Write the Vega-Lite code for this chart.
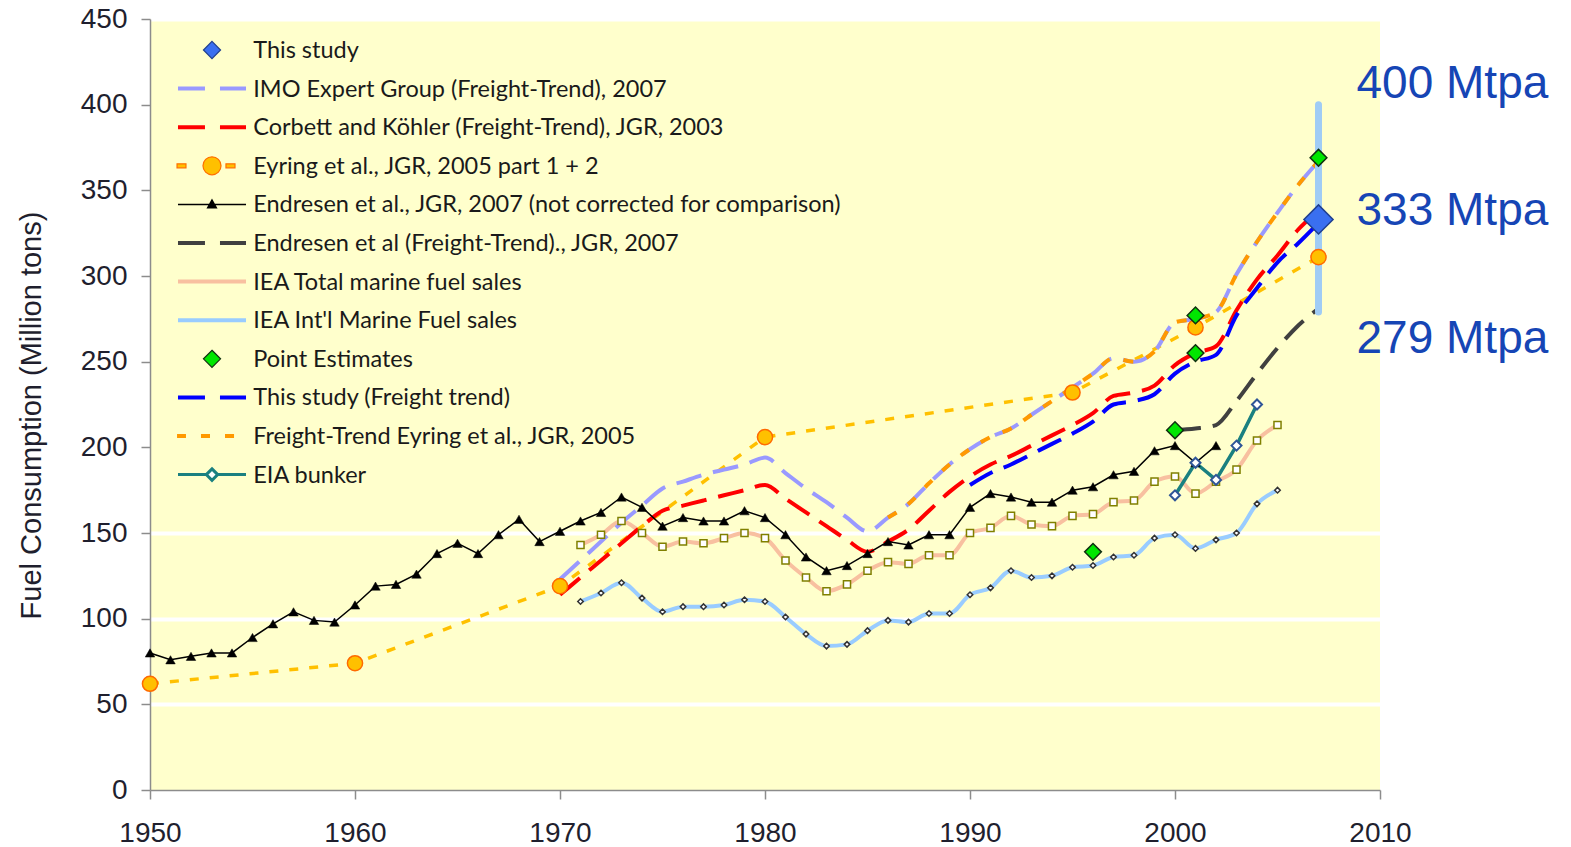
{
  "$schema": "https://vega.github.io/schema/vega-lite/v6.json",
  "width": 1230,
  "height": 771,
  "autosize": {"type": "none"},
  "padding": {"left": 150, "top": 19, "right": 191, "bottom": 57},
  "background": "white",
  "config": {
    "view": {"fill": "#FFFFCC", "stroke": null},
    "axis": {"labelFont": "Liberation Sans", "labelFontSize": 28, "labelColor": "#1f1f2e", "domainColor": "#8c8c8c", "domainWidth": 1.5, "tickColor": "#8c8c8c", "tickWidth": 1.5, "tickSize": 9, "titleFont": "Liberation Sans", "titleFontSize": 29, "titleFontWeight": "normal", "titleColor": "#1f1f2e", "labelFlush": false, "labelOverlap": false}
  },
  "datasets": {
    "main": [
      {"series": "Endresen et al., JGR, 2007 (not corrected for comparison)", "year": 1950, "value": 80},
      {"series": "Endresen et al., JGR, 2007 (not corrected for comparison)", "year": 1951, "value": 76},
      {"series": "Endresen et al., JGR, 2007 (not corrected for comparison)", "year": 1952, "value": 78},
      {"series": "Endresen et al., JGR, 2007 (not corrected for comparison)", "year": 1953, "value": 80},
      {"series": "Endresen et al., JGR, 2007 (not corrected for comparison)", "year": 1954, "value": 80},
      {"series": "Endresen et al., JGR, 2007 (not corrected for comparison)", "year": 1955, "value": 89},
      {"series": "Endresen et al., JGR, 2007 (not corrected for comparison)", "year": 1956, "value": 97},
      {"series": "Endresen et al., JGR, 2007 (not corrected for comparison)", "year": 1957, "value": 104},
      {"series": "Endresen et al., JGR, 2007 (not corrected for comparison)", "year": 1958, "value": 99},
      {"series": "Endresen et al., JGR, 2007 (not corrected for comparison)", "year": 1959, "value": 98},
      {"series": "Endresen et al., JGR, 2007 (not corrected for comparison)", "year": 1960, "value": 108},
      {"series": "Endresen et al., JGR, 2007 (not corrected for comparison)", "year": 1961, "value": 119},
      {"series": "Endresen et al., JGR, 2007 (not corrected for comparison)", "year": 1962, "value": 120},
      {"series": "Endresen et al., JGR, 2007 (not corrected for comparison)", "year": 1963, "value": 126},
      {"series": "Endresen et al., JGR, 2007 (not corrected for comparison)", "year": 1964, "value": 138},
      {"series": "Endresen et al., JGR, 2007 (not corrected for comparison)", "year": 1965, "value": 144},
      {"series": "Endresen et al., JGR, 2007 (not corrected for comparison)", "year": 1966, "value": 138},
      {"series": "Endresen et al., JGR, 2007 (not corrected for comparison)", "year": 1967, "value": 149},
      {"series": "Endresen et al., JGR, 2007 (not corrected for comparison)", "year": 1968, "value": 158},
      {"series": "Endresen et al., JGR, 2007 (not corrected for comparison)", "year": 1969, "value": 145},
      {"series": "Endresen et al., JGR, 2007 (not corrected for comparison)", "year": 1970, "value": 151},
      {"series": "Endresen et al., JGR, 2007 (not corrected for comparison)", "year": 1971, "value": 157},
      {"series": "Endresen et al., JGR, 2007 (not corrected for comparison)", "year": 1972, "value": 162},
      {"series": "Endresen et al., JGR, 2007 (not corrected for comparison)", "year": 1973, "value": 171},
      {"series": "Endresen et al., JGR, 2007 (not corrected for comparison)", "year": 1974, "value": 165},
      {"series": "Endresen et al., JGR, 2007 (not corrected for comparison)", "year": 1975, "value": 154},
      {"series": "Endresen et al., JGR, 2007 (not corrected for comparison)", "year": 1976, "value": 159},
      {"series": "Endresen et al., JGR, 2007 (not corrected for comparison)", "year": 1977, "value": 157},
      {"series": "Endresen et al., JGR, 2007 (not corrected for comparison)", "year": 1978, "value": 157},
      {"series": "Endresen et al., JGR, 2007 (not corrected for comparison)", "year": 1979, "value": 163},
      {"series": "Endresen et al., JGR, 2007 (not corrected for comparison)", "year": 1980, "value": 159},
      {"series": "Endresen et al., JGR, 2007 (not corrected for comparison)", "year": 1981, "value": 149},
      {"series": "Endresen et al., JGR, 2007 (not corrected for comparison)", "year": 1982, "value": 136},
      {"series": "Endresen et al., JGR, 2007 (not corrected for comparison)", "year": 1983, "value": 128},
      {"series": "Endresen et al., JGR, 2007 (not corrected for comparison)", "year": 1984, "value": 131},
      {"series": "Endresen et al., JGR, 2007 (not corrected for comparison)", "year": 1985, "value": 138},
      {"series": "Endresen et al., JGR, 2007 (not corrected for comparison)", "year": 1986, "value": 145},
      {"series": "Endresen et al., JGR, 2007 (not corrected for comparison)", "year": 1987, "value": 143},
      {"series": "Endresen et al., JGR, 2007 (not corrected for comparison)", "year": 1988, "value": 149},
      {"series": "Endresen et al., JGR, 2007 (not corrected for comparison)", "year": 1989, "value": 149},
      {"series": "Endresen et al., JGR, 2007 (not corrected for comparison)", "year": 1990, "value": 165},
      {"series": "Endresen et al., JGR, 2007 (not corrected for comparison)", "year": 1991, "value": 173},
      {"series": "Endresen et al., JGR, 2007 (not corrected for comparison)", "year": 1992, "value": 171},
      {"series": "Endresen et al., JGR, 2007 (not corrected for comparison)", "year": 1993, "value": 168},
      {"series": "Endresen et al., JGR, 2007 (not corrected for comparison)", "year": 1994, "value": 168},
      {"series": "Endresen et al., JGR, 2007 (not corrected for comparison)", "year": 1995, "value": 175},
      {"series": "Endresen et al., JGR, 2007 (not corrected for comparison)", "year": 1996, "value": 177},
      {"series": "Endresen et al., JGR, 2007 (not corrected for comparison)", "year": 1997, "value": 184},
      {"series": "Endresen et al., JGR, 2007 (not corrected for comparison)", "year": 1998, "value": 186},
      {"series": "Endresen et al., JGR, 2007 (not corrected for comparison)", "year": 1999, "value": 198},
      {"series": "Endresen et al., JGR, 2007 (not corrected for comparison)", "year": 2000, "value": 201},
      {"series": "Endresen et al., JGR, 2007 (not corrected for comparison)", "year": 2001, "value": 191},
      {"series": "Endresen et al., JGR, 2007 (not corrected for comparison)", "year": 2002, "value": 201},

      {"series": "IEA Total marine fuel sales", "year": 1971, "value": 143},
      {"series": "IEA Total marine fuel sales", "year": 1972, "value": 149},
      {"series": "IEA Total marine fuel sales", "year": 1973, "value": 157},
      {"series": "IEA Total marine fuel sales", "year": 1974, "value": 150},
      {"series": "IEA Total marine fuel sales", "year": 1975, "value": 142},
      {"series": "IEA Total marine fuel sales", "year": 1976, "value": 145},
      {"series": "IEA Total marine fuel sales", "year": 1977, "value": 144},
      {"series": "IEA Total marine fuel sales", "year": 1978, "value": 147},
      {"series": "IEA Total marine fuel sales", "year": 1979, "value": 150},
      {"series": "IEA Total marine fuel sales", "year": 1980, "value": 147},
      {"series": "IEA Total marine fuel sales", "year": 1981, "value": 134},
      {"series": "IEA Total marine fuel sales", "year": 1982, "value": 124},
      {"series": "IEA Total marine fuel sales", "year": 1983, "value": 116},
      {"series": "IEA Total marine fuel sales", "year": 1984, "value": 120},
      {"series": "IEA Total marine fuel sales", "year": 1985, "value": 128},
      {"series": "IEA Total marine fuel sales", "year": 1986, "value": 133},
      {"series": "IEA Total marine fuel sales", "year": 1987, "value": 132},
      {"series": "IEA Total marine fuel sales", "year": 1988, "value": 137},
      {"series": "IEA Total marine fuel sales", "year": 1989, "value": 137},
      {"series": "IEA Total marine fuel sales", "year": 1990, "value": 150},
      {"series": "IEA Total marine fuel sales", "year": 1991, "value": 153},
      {"series": "IEA Total marine fuel sales", "year": 1992, "value": 160},
      {"series": "IEA Total marine fuel sales", "year": 1993, "value": 155},
      {"series": "IEA Total marine fuel sales", "year": 1994, "value": 154},
      {"series": "IEA Total marine fuel sales", "year": 1995, "value": 160},
      {"series": "IEA Total marine fuel sales", "year": 1996, "value": 161},
      {"series": "IEA Total marine fuel sales", "year": 1997, "value": 168},
      {"series": "IEA Total marine fuel sales", "year": 1998, "value": 169},
      {"series": "IEA Total marine fuel sales", "year": 1999, "value": 180},
      {"series": "IEA Total marine fuel sales", "year": 2000, "value": 183},
      {"series": "IEA Total marine fuel sales", "year": 2001, "value": 173},
      {"series": "IEA Total marine fuel sales", "year": 2002, "value": 180},
      {"series": "IEA Total marine fuel sales", "year": 2003, "value": 187},
      {"series": "IEA Total marine fuel sales", "year": 2004, "value": 204},
      {"series": "IEA Total marine fuel sales", "year": 2005, "value": 213},

      {"series": "IEA Int'l Marine Fuel sales", "year": 1971, "value": 110},
      {"series": "IEA Int'l Marine Fuel sales", "year": 1972, "value": 115},
      {"series": "IEA Int'l Marine Fuel sales", "year": 1973, "value": 121},
      {"series": "IEA Int'l Marine Fuel sales", "year": 1974, "value": 112},
      {"series": "IEA Int'l Marine Fuel sales", "year": 1975, "value": 104},
      {"series": "IEA Int'l Marine Fuel sales", "year": 1976, "value": 107},
      {"series": "IEA Int'l Marine Fuel sales", "year": 1977, "value": 107},
      {"series": "IEA Int'l Marine Fuel sales", "year": 1978, "value": 108},
      {"series": "IEA Int'l Marine Fuel sales", "year": 1979, "value": 111},
      {"series": "IEA Int'l Marine Fuel sales", "year": 1980, "value": 110},
      {"series": "IEA Int'l Marine Fuel sales", "year": 1981, "value": 101},
      {"series": "IEA Int'l Marine Fuel sales", "year": 1982, "value": 91},
      {"series": "IEA Int'l Marine Fuel sales", "year": 1983, "value": 84},
      {"series": "IEA Int'l Marine Fuel sales", "year": 1984, "value": 85},
      {"series": "IEA Int'l Marine Fuel sales", "year": 1985, "value": 93},
      {"series": "IEA Int'l Marine Fuel sales", "year": 1986, "value": 99},
      {"series": "IEA Int'l Marine Fuel sales", "year": 1987, "value": 98},
      {"series": "IEA Int'l Marine Fuel sales", "year": 1988, "value": 103},
      {"series": "IEA Int'l Marine Fuel sales", "year": 1989, "value": 103},
      {"series": "IEA Int'l Marine Fuel sales", "year": 1990, "value": 114},
      {"series": "IEA Int'l Marine Fuel sales", "year": 1991, "value": 118},
      {"series": "IEA Int'l Marine Fuel sales", "year": 1992, "value": 128},
      {"series": "IEA Int'l Marine Fuel sales", "year": 1993, "value": 124},
      {"series": "IEA Int'l Marine Fuel sales", "year": 1994, "value": 125},
      {"series": "IEA Int'l Marine Fuel sales", "year": 1995, "value": 130},
      {"series": "IEA Int'l Marine Fuel sales", "year": 1996, "value": 131},
      {"series": "IEA Int'l Marine Fuel sales", "year": 1997, "value": 136},
      {"series": "IEA Int'l Marine Fuel sales", "year": 1998, "value": 137},
      {"series": "IEA Int'l Marine Fuel sales", "year": 1999, "value": 147},
      {"series": "IEA Int'l Marine Fuel sales", "year": 2000, "value": 149},
      {"series": "IEA Int'l Marine Fuel sales", "year": 2001, "value": 141},
      {"series": "IEA Int'l Marine Fuel sales", "year": 2002, "value": 146},
      {"series": "IEA Int'l Marine Fuel sales", "year": 2003, "value": 150},
      {"series": "IEA Int'l Marine Fuel sales", "year": 2004, "value": 167},
      {"series": "IEA Int'l Marine Fuel sales", "year": 2005, "value": 175},

      {"series": "EIA bunker", "year": 2000, "value": 172},
      {"series": "EIA bunker", "year": 2001, "value": 191},
      {"series": "EIA bunker", "year": 2002, "value": 181},
      {"series": "EIA bunker", "year": 2003, "value": 201},
      {"series": "EIA bunker", "year": 2004, "value": 225},

      {"series": "Eyring et al., JGR, 2005 part 1 + 2", "year": 1950, "value": 62},
      {"series": "Eyring et al., JGR, 2005 part 1 + 2", "year": 1960, "value": 74},
      {"series": "Eyring et al., JGR, 2005 part 1 + 2", "year": 1970, "value": 119},
      {"series": "Eyring et al., JGR, 2005 part 1 + 2", "year": 1980, "value": 206},
      {"series": "Eyring et al., JGR, 2005 part 1 + 2", "year": 1995, "value": 232},
      {"series": "Eyring et al., JGR, 2005 part 1 + 2", "year": 2001, "value": 270},
      {"series": "Eyring et al., JGR, 2005 part 1 + 2", "year": 2007, "value": 311},

      {"series": "IMO Expert Group (Freight-Trend), 2007", "year": 1970, "value": 123},
      {"series": "IMO Expert Group (Freight-Trend), 2007", "year": 1971, "value": 134},
      {"series": "IMO Expert Group (Freight-Trend), 2007", "year": 1972, "value": 145},
      {"series": "IMO Expert Group (Freight-Trend), 2007", "year": 1973, "value": 156},
      {"series": "IMO Expert Group (Freight-Trend), 2007", "year": 1974, "value": 166},
      {"series": "IMO Expert Group (Freight-Trend), 2007", "year": 1975, "value": 176},
      {"series": "IMO Expert Group (Freight-Trend), 2007", "year": 1976, "value": 180},
      {"series": "IMO Expert Group (Freight-Trend), 2007", "year": 1977, "value": 184},
      {"series": "IMO Expert Group (Freight-Trend), 2007", "year": 1978, "value": 187},
      {"series": "IMO Expert Group (Freight-Trend), 2007", "year": 1979, "value": 190},
      {"series": "IMO Expert Group (Freight-Trend), 2007", "year": 1980, "value": 194},
      {"series": "IMO Expert Group (Freight-Trend), 2007", "year": 1981, "value": 185},
      {"series": "IMO Expert Group (Freight-Trend), 2007", "year": 1982, "value": 176},
      {"series": "IMO Expert Group (Freight-Trend), 2007", "year": 1983, "value": 168},
      {"series": "IMO Expert Group (Freight-Trend), 2007", "year": 1984, "value": 159},
      {"series": "IMO Expert Group (Freight-Trend), 2007", "year": 1985, "value": 151},
      {"series": "IMO Expert Group (Freight-Trend), 2007", "year": 1986, "value": 159},
      {"series": "IMO Expert Group (Freight-Trend), 2007", "year": 1987, "value": 167},
      {"series": "IMO Expert Group (Freight-Trend), 2007", "year": 1988, "value": 179},
      {"series": "IMO Expert Group (Freight-Trend), 2007", "year": 1989, "value": 190},
      {"series": "IMO Expert Group (Freight-Trend), 2007", "year": 1990, "value": 199},
      {"series": "IMO Expert Group (Freight-Trend), 2007", "year": 1991, "value": 206},
      {"series": "IMO Expert Group (Freight-Trend), 2007", "year": 1992, "value": 211},
      {"series": "IMO Expert Group (Freight-Trend), 2007", "year": 1993, "value": 219},
      {"series": "IMO Expert Group (Freight-Trend), 2007", "year": 1994, "value": 227},
      {"series": "IMO Expert Group (Freight-Trend), 2007", "year": 1995, "value": 235},
      {"series": "IMO Expert Group (Freight-Trend), 2007", "year": 1996, "value": 243},
      {"series": "IMO Expert Group (Freight-Trend), 2007", "year": 1997, "value": 252},
      {"series": "IMO Expert Group (Freight-Trend), 2007", "year": 1998, "value": 250},
      {"series": "IMO Expert Group (Freight-Trend), 2007", "year": 1999, "value": 256},
      {"series": "IMO Expert Group (Freight-Trend), 2007", "year": 2000, "value": 273},
      {"series": "IMO Expert Group (Freight-Trend), 2007", "year": 2001, "value": 275},
      {"series": "IMO Expert Group (Freight-Trend), 2007", "year": 2002, "value": 279},
      {"series": "IMO Expert Group (Freight-Trend), 2007", "year": 2003, "value": 301},
      {"series": "IMO Expert Group (Freight-Trend), 2007", "year": 2004, "value": 320},
      {"series": "IMO Expert Group (Freight-Trend), 2007", "year": 2005, "value": 337},
      {"series": "IMO Expert Group (Freight-Trend), 2007", "year": 2006, "value": 353},
      {"series": "IMO Expert Group (Freight-Trend), 2007", "year": 2007, "value": 367},

      {"series": "Freight-Trend Eyring et al., JGR, 2005", "year": 1986, "value": 159},
      {"series": "Freight-Trend Eyring et al., JGR, 2005", "year": 1987, "value": 167},
      {"series": "Freight-Trend Eyring et al., JGR, 2005", "year": 1988, "value": 179},
      {"series": "Freight-Trend Eyring et al., JGR, 2005", "year": 1989, "value": 190},
      {"series": "Freight-Trend Eyring et al., JGR, 2005", "year": 1990, "value": 199},
      {"series": "Freight-Trend Eyring et al., JGR, 2005", "year": 1991, "value": 206},
      {"series": "Freight-Trend Eyring et al., JGR, 2005", "year": 1992, "value": 211},
      {"series": "Freight-Trend Eyring et al., JGR, 2005", "year": 1993, "value": 219},
      {"series": "Freight-Trend Eyring et al., JGR, 2005", "year": 1994, "value": 227},
      {"series": "Freight-Trend Eyring et al., JGR, 2005", "year": 1995, "value": 235},
      {"series": "Freight-Trend Eyring et al., JGR, 2005", "year": 1996, "value": 243},
      {"series": "Freight-Trend Eyring et al., JGR, 2005", "year": 1997, "value": 252},
      {"series": "Freight-Trend Eyring et al., JGR, 2005", "year": 1998, "value": 250},
      {"series": "Freight-Trend Eyring et al., JGR, 2005", "year": 1999, "value": 256},
      {"series": "Freight-Trend Eyring et al., JGR, 2005", "year": 2000, "value": 273},
      {"series": "Freight-Trend Eyring et al., JGR, 2005", "year": 2001, "value": 275},
      {"series": "Freight-Trend Eyring et al., JGR, 2005", "year": 2002, "value": 279},
      {"series": "Freight-Trend Eyring et al., JGR, 2005", "year": 2003, "value": 301},
      {"series": "Freight-Trend Eyring et al., JGR, 2005", "year": 2004, "value": 320},
      {"series": "Freight-Trend Eyring et al., JGR, 2005", "year": 2005, "value": 337},
      {"series": "Freight-Trend Eyring et al., JGR, 2005", "year": 2006, "value": 353},
      {"series": "Freight-Trend Eyring et al., JGR, 2005", "year": 2007, "value": 367},

      {"series": "Corbett and Köhler (Freight-Trend), JGR, 2003", "year": 1970, "value": 114},
      {"series": "Corbett and Köhler (Freight-Trend), JGR, 2003", "year": 1971, "value": 124},
      {"series": "Corbett and Köhler (Freight-Trend), JGR, 2003", "year": 1972, "value": 134},
      {"series": "Corbett and Köhler (Freight-Trend), JGR, 2003", "year": 1973, "value": 144},
      {"series": "Corbett and Köhler (Freight-Trend), JGR, 2003", "year": 1974, "value": 154},
      {"series": "Corbett and Köhler (Freight-Trend), JGR, 2003", "year": 1975, "value": 163},
      {"series": "Corbett and Köhler (Freight-Trend), JGR, 2003", "year": 1976, "value": 166},
      {"series": "Corbett and Köhler (Freight-Trend), JGR, 2003", "year": 1977, "value": 169},
      {"series": "Corbett and Köhler (Freight-Trend), JGR, 2003", "year": 1978, "value": 172},
      {"series": "Corbett and Köhler (Freight-Trend), JGR, 2003", "year": 1979, "value": 175},
      {"series": "Corbett and Köhler (Freight-Trend), JGR, 2003", "year": 1980, "value": 178},
      {"series": "Corbett and Köhler (Freight-Trend), JGR, 2003", "year": 1981, "value": 170},
      {"series": "Corbett and Köhler (Freight-Trend), JGR, 2003", "year": 1982, "value": 162},
      {"series": "Corbett and Köhler (Freight-Trend), JGR, 2003", "year": 1983, "value": 154},
      {"series": "Corbett and Köhler (Freight-Trend), JGR, 2003", "year": 1984, "value": 146},
      {"series": "Corbett and Köhler (Freight-Trend), JGR, 2003", "year": 1985, "value": 139},
      {"series": "Corbett and Köhler (Freight-Trend), JGR, 2003", "year": 1986, "value": 145},
      {"series": "Corbett and Köhler (Freight-Trend), JGR, 2003", "year": 1987, "value": 152},
      {"series": "Corbett and Köhler (Freight-Trend), JGR, 2003", "year": 1988, "value": 163},
      {"series": "Corbett and Köhler (Freight-Trend), JGR, 2003", "year": 1989, "value": 174},
      {"series": "Corbett and Köhler (Freight-Trend), JGR, 2003", "year": 1990, "value": 183},
      {"series": "Corbett and Köhler (Freight-Trend), JGR, 2003", "year": 1991, "value": 190},
      {"series": "Corbett and Köhler (Freight-Trend), JGR, 2003", "year": 1992, "value": 195},
      {"series": "Corbett and Köhler (Freight-Trend), JGR, 2003", "year": 1993, "value": 201},
      {"series": "Corbett and Köhler (Freight-Trend), JGR, 2003", "year": 1994, "value": 207},
      {"series": "Corbett and Köhler (Freight-Trend), JGR, 2003", "year": 1995, "value": 213},
      {"series": "Corbett and Köhler (Freight-Trend), JGR, 2003", "year": 1996, "value": 220},
      {"series": "Corbett and Köhler (Freight-Trend), JGR, 2003", "year": 1997, "value": 230},
      {"series": "Corbett and Köhler (Freight-Trend), JGR, 2003", "year": 1998, "value": 232},
      {"series": "Corbett and Köhler (Freight-Trend), JGR, 2003", "year": 1999, "value": 236},
      {"series": "Corbett and Köhler (Freight-Trend), JGR, 2003", "year": 2000, "value": 248},
      {"series": "Corbett and Köhler (Freight-Trend), JGR, 2003", "year": 2001, "value": 255},
      {"series": "Corbett and Köhler (Freight-Trend), JGR, 2003", "year": 2002, "value": 259},
      {"series": "Corbett and Köhler (Freight-Trend), JGR, 2003", "year": 2003, "value": 280},
      {"series": "Corbett and Köhler (Freight-Trend), JGR, 2003", "year": 2004, "value": 298},
      {"series": "Corbett and Köhler (Freight-Trend), JGR, 2003", "year": 2005, "value": 312},
      {"series": "Corbett and Köhler (Freight-Trend), JGR, 2003", "year": 2006, "value": 327},
      {"series": "Corbett and Köhler (Freight-Trend), JGR, 2003", "year": 2007, "value": 338},

      {"series": "This study (Freight trend)", "year": 1990, "value": 178},
      {"series": "This study (Freight trend)", "year": 1991, "value": 185},
      {"series": "This study (Freight trend)", "year": 1992, "value": 190},
      {"series": "This study (Freight trend)", "year": 1993, "value": 196},
      {"series": "This study (Freight trend)", "year": 1994, "value": 202},
      {"series": "This study (Freight trend)", "year": 1995, "value": 208},
      {"series": "This study (Freight trend)", "year": 1996, "value": 215},
      {"series": "This study (Freight trend)", "year": 1997, "value": 225},
      {"series": "This study (Freight trend)", "year": 1998, "value": 227},
      {"series": "This study (Freight trend)", "year": 1999, "value": 231},
      {"series": "This study (Freight trend)", "year": 2000, "value": 243},
      {"series": "This study (Freight trend)", "year": 2001, "value": 250},
      {"series": "This study (Freight trend)", "year": 2002, "value": 254},
      {"series": "This study (Freight trend)", "year": 2003, "value": 277},
      {"series": "This study (Freight trend)", "year": 2004, "value": 293},
      {"series": "This study (Freight trend)", "year": 2005, "value": 308},
      {"series": "This study (Freight trend)", "year": 2006, "value": 319},
      {"series": "This study (Freight trend)", "year": 2007, "value": 331},

      {"series": "Endresen et al (Freight-Trend)., JGR, 2007", "year": 2000, "value": 210},
      {"series": "Endresen et al (Freight-Trend)., JGR, 2007", "year": 2001, "value": 211},
      {"series": "Endresen et al (Freight-Trend)., JGR, 2007", "year": 2002, "value": 213},
      {"series": "Endresen et al (Freight-Trend)., JGR, 2007", "year": 2003, "value": 227},
      {"series": "Endresen et al (Freight-Trend)., JGR, 2007", "year": 2004, "value": 243},
      {"series": "Endresen et al (Freight-Trend)., JGR, 2007", "year": 2005, "value": 258},
      {"series": "Endresen et al (Freight-Trend)., JGR, 2007", "year": 2006, "value": 271},
      {"series": "Endresen et al (Freight-Trend)., JGR, 2007", "year": 2007, "value": 281},

      {"series": "Point Estimates", "year": 1996, "value": 139},
      {"series": "Point Estimates", "year": 2000, "value": 210},
      {"series": "Point Estimates", "year": 2001, "value": 255},
      {"series": "Point Estimates", "year": 2001, "value": 277},
      {"series": "Point Estimates", "year": 2007, "value": 369},

      {"series": "This study", "year": 2007, "value": 333}
    ]
  },
  "data": {"name": "main"},
  "encoding": {
    "x": {"field": "year", "type": "quantitative", "scale": {"domain": [1950, 2010], "nice": false, "zero": false},
      "axis": {"values": [1950, 1960, 1970, 1980, 1990, 2000, 2010], "format": "d", "grid": false, "labelPadding": 20, "title": null}},
    "y": {"field": "value", "type": "quantitative", "scale": {"domain": [0, 450], "nice": false},
      "axis": {"values": [0, 50, 100, 150, 200, 250, 300, 350, 400, 450], "labelPadding": 14, "grid": true, "gridColor": "white", "gridWidth": 4,
        "gridOpacity": {"condition": {"test": "datum.value == 0 || (datum.value >= 200 && datum.value <= 400)", "value": 0}, "value": 1},
        "title": "Fuel Consumption (Million tons)", "titleAngle": -90, "titleX": -110, "titleY": 396, "titleAlign": "center", "titleBaseline": "alphabetic"}}
  },
  "layer": [
    {
      "data": {"values": [{"value": 200}, {"value": 250}, {"value": 300}, {"value": 350}, {"value": 400}]},
      "mark": {"type": "rule", "color": "white", "strokeWidth": 4},
      "encoding": {"x": {"datum": 1984.6, "type": "quantitative"}, "x2": {"datum": 2010}}
    },
    {
      "transform": [{"filter": {"field": "series", "equal": "__none__"}}],
      "mark": {"type": "point"},
      "encoding": {"color": {"field": "series", "type": "nominal",
        "scale": {"domain": ["This study", "IMO Expert Group (Freight-Trend), 2007", "Corbett and Köhler (Freight-Trend), JGR, 2003", "Eyring et al., JGR, 2005 part 1 + 2", "Endresen et al., JGR, 2007 (not corrected for comparison)", "Endresen et al (Freight-Trend)., JGR, 2007", "IEA Total marine fuel sales", "IEA Int'l Marine Fuel sales", "Point Estimates", "This study (Freight trend)", "Freight-Trend Eyring et al., JGR, 2005", "EIA bunker"],
          "range": ["#3A6FF0", "#9999FF", "#FF0000", "#FFC000", "#000000", "#404040", "#F8C0A0", "#99CCFF", "#00E600", "#0000FF", "#FF9900", "#1A8080"]},
        "legend": {"orient": "none", "legendX": -16, "legendY": 0.25, "title": null, "zindex": 0, "padding": 20,
          "labelFont": "Lato", "labelFontSize": 23.5, "labelColor": "#1a1a1a", "labelLimit": 0,
          "symbolOffset": 23.25, "labelOffset": 52.5, "rowPadding": 13.6,
          "symbolSize": 100, "symbolOpacity": 0, "symbolStrokeWidth": 0
        }}}
    },
    {
      "transform": [{"filter": {"field": "series", "equal": "IEA Total marine fuel sales"}}],
      "mark": {"type": "line", "strokeWidth": 4, "interpolate": "monotone"},
      "encoding": {"color": {"field": "series", "type": "nominal", "legend": null}}
    },
    {
      "transform": [{"filter": {"field": "series", "equal": "IEA Int'l Marine Fuel sales"}}],
      "mark": {"type": "line", "strokeWidth": 4, "interpolate": "monotone"},
      "encoding": {"color": {"field": "series", "type": "nominal", "legend": null}}
    },
    {
      "transform": [{"filter": {"field": "series", "equal": "Eyring et al., JGR, 2005 part 1 + 2"}}],
      "mark": {"type": "line", "strokeWidth": 3.5, "strokeDash": [9, 11]},
      "encoding": {"color": {"field": "series", "type": "nominal", "legend": null}}
    },
    {
      "transform": [{"filter": {"field": "series", "equal": "IMO Expert Group (Freight-Trend), 2007"}}],
      "mark": {"type": "line", "strokeWidth": 4, "strokeDash": [26, 12], "interpolate": "monotone"},
      "encoding": {"color": {"field": "series", "type": "nominal", "legend": null}}
    },
    {
      "transform": [{"filter": {"field": "series", "equal": "Freight-Trend Eyring et al., JGR, 2005"}}],
      "mark": {"type": "line", "strokeWidth": 4, "strokeDash": [10, 14], "interpolate": "monotone"},
      "encoding": {"color": {"field": "series", "type": "nominal", "legend": null}}
    },
    {
      "transform": [{"filter": {"field": "series", "equal": "Corbett and Köhler (Freight-Trend), JGR, 2003"}}],
      "mark": {"type": "line", "strokeWidth": 4, "strokeDash": [26, 12], "interpolate": "monotone"},
      "encoding": {"color": {"field": "series", "type": "nominal", "legend": null}}
    },
    {
      "transform": [{"filter": {"field": "series", "equal": "This study (Freight trend)"}}],
      "mark": {"type": "line", "strokeWidth": 4, "strokeDash": [26, 12], "interpolate": "monotone"},
      "encoding": {"color": {"field": "series", "type": "nominal", "legend": null}}
    },
    {
      "transform": [{"filter": {"field": "series", "equal": "Endresen et al (Freight-Trend)., JGR, 2007"}}],
      "mark": {"type": "line", "strokeWidth": 4, "strokeDash": [26, 12], "interpolate": "monotone"},
      "encoding": {"color": {"field": "series", "type": "nominal", "legend": null}}
    },
    {
      "transform": [{"filter": {"field": "series", "equal": "Endresen et al., JGR, 2007 (not corrected for comparison)"}}],
      "mark": {"type": "line", "strokeWidth": 1.5},
      "encoding": {"color": {"field": "series", "type": "nominal", "legend": null}}
    },
    {
      "transform": [{"filter": {"field": "series", "equal": "EIA bunker"}}],
      "mark": {"type": "line", "strokeWidth": 3.5},
      "encoding": {"color": {"field": "series", "type": "nominal", "legend": null}}
    },
    {
      "data": {"values": [{"year": 2007, "value": 279, "high": 400}]},
      "mark": {"type": "rule", "color": "#A0CCF5", "strokeWidth": 7, "strokeCap": "round"},
      "encoding": {"y2": {"field": "high"}}
    },
    {
      "transform": [{"filter": {"field": "series", "equal": "IEA Total marine fuel sales"}}],
      "mark": {"type": "point", "shape": "square", "filled": true, "fill": "#FFFFFF", "stroke": "#808000", "strokeWidth": 1.5, "size": 50, "opacity": 1}
    },
    {
      "transform": [{"filter": {"field": "series", "equal": "IEA Int'l Marine Fuel sales"}}],
      "mark": {"type": "point", "shape": "diamond", "filled": true, "fill": "#FFFFFF", "stroke": "#333333", "strokeWidth": 1.5, "size": 30, "opacity": 1}
    },
    {
      "transform": [{"filter": {"field": "series", "equal": "Endresen et al., JGR, 2007 (not corrected for comparison)"}}],
      "mark": {"type": "point", "shape": "triangle-up", "filled": true, "fill": "#000000", "stroke": "#000000", "strokeWidth": 0.5, "size": 90, "opacity": 1}
    },
    {
      "transform": [{"filter": {"field": "series", "equal": "EIA bunker"}}],
      "mark": {"type": "point", "shape": "diamond", "filled": true, "fill": "#FFFFFF", "stroke": "#2F5597", "strokeWidth": 2, "size": 100, "opacity": 1}
    },
    {
      "transform": [{"filter": {"field": "series", "equal": "Eyring et al., JGR, 2005 part 1 + 2"}}],
      "mark": {"type": "point", "shape": "circle", "filled": true, "fill": "#FFC000", "stroke": "#FF6A00", "strokeWidth": 1.5, "size": 230, "opacity": 1}
    },
    {
      "transform": [{"filter": {"field": "series", "equal": "Point Estimates"}}],
      "mark": {"type": "point", "shape": "diamond", "filled": true, "fill": "#00E600", "stroke": "#103010", "strokeWidth": 1.5, "size": 280, "opacity": 1}
    },
    {
      "transform": [{"filter": {"field": "series", "equal": "This study"}}],
      "mark": {"type": "point", "shape": "diamond", "filled": true, "fill": "#3A6FF0", "stroke": "#1F3F8F", "strokeWidth": 1.5, "size": 850, "opacity": 1}
    },
    {
      "transform": [{"filter": {"field": "series", "equal": "This study"}}],
      "mark": {"type": "point", "filled": true, "strokeWidth": 1.5, "size": 10, "opacity": 0},
      "encoding": {
        "shape": {"field": "series", "type": "nominal",
          "scale": {"domain": ["This study", "IMO Expert Group (Freight-Trend), 2007", "Corbett and Köhler (Freight-Trend), JGR, 2003", "Eyring et al., JGR, 2005 part 1 + 2", "Endresen et al., JGR, 2007 (not corrected for comparison)", "Endresen et al (Freight-Trend)., JGR, 2007", "IEA Total marine fuel sales", "IEA Int'l Marine Fuel sales", "Point Estimates", "This study (Freight trend)", "Freight-Trend Eyring et al., JGR, 2005", "EIA bunker", "-"],
            "range": [
              "M0,-0.9L0.9,0L0,0.9L-0.9,0Z",
              "M-3.58,0L-0.74,0M0.84,0L3.58,0",
              "M-3.58,0L-0.74,0M0.84,0L3.58,0",
              "M-3.68,-0.21L-2.74,-0.21L-2.74,0.21L-3.68,0.21ZM1.47,-0.21L2.42,-0.21L2.42,0.21L1.47,0.21ZM0.95,0C0.95,0.5247,0.5247,0.95,0,0.95C-0.5247,0.95,-0.95,0.5247,-0.95,0C-0.95,-0.5247,-0.5247,-0.95,0,-0.95C0.5247,-0.95,0.95,-0.5247,0.95,0Z",
              "M-3.58,0L3.58,0M0,-0.45L0.45,0.35L-0.45,0.35Z",
              "M-3.58,0L-0.74,0M0.84,0L3.58,0",
              "M-3.58,0L3.58,0",
              "M-3.58,0L3.58,0",
              "M0,-0.9L0.9,0L0,0.9L-0.9,0Z",
              "M-3.58,0L-0.74,0M0.84,0L3.58,0",
              "M-3.68,0L-2.74,0M-1.16,0L-0.21,0M1.37,0L2.32,0",
              "M-3.58,0L-0.6,0M0.6,0L3.58,0M0,-0.6L0.6,0L0,0.6L-0.6,0Z",
              "M0,0L0.1,0"
            ]},
          "legend": {"orient": "none", "legendX": 7, "legendY": -0.75, "title": null, "zindex": 1, "padding": 20,
            "labelFont": "Lato", "labelFontSize": 23.5, "labelOpacity": 0, "labelLimit": 0,
            "symbolOffset": 23.25, "labelOffset": 52.5, "rowPadding": 13.6,
            "symbolSize": 361,
            "symbolStrokeWidth": {"expr": "(isValid(datum.index) ? [1.2,4,4,1.2,1.5,4,4,4,1.2,4,4,3,0][datum.index] : 0)"},
            "symbolFillColor": {"expr": "['#3A6FF0','transparent','transparent','#FFC000','#000000','transparent','transparent','transparent','#00E600','transparent','transparent','#FFFFFF','transparent'][datum.index]"},
            "symbolStrokeColor": {"expr": "['#1F3F8F','#9999FF','#FF0000','#FF7000','#000000','#404040','#F8C0A0','#99CCFF','#103010','#0000FF','#FF9900','#1A8080','transparent'][datum.index]"},
            "symbolOpacity": 1
          }},
        "fill": {"field": "series", "type": "nominal", "legend": null,
          "scale": {"domain": ["This study", "IMO Expert Group (Freight-Trend), 2007", "Corbett and Köhler (Freight-Trend), JGR, 2003", "Eyring et al., JGR, 2005 part 1 + 2", "Endresen et al., JGR, 2007 (not corrected for comparison)", "Endresen et al (Freight-Trend)., JGR, 2007", "IEA Total marine fuel sales", "IEA Int'l Marine Fuel sales", "Point Estimates", "This study (Freight trend)", "Freight-Trend Eyring et al., JGR, 2005", "EIA bunker", "-"],
            "range": ["#3A6FF0", "transparent", "transparent", "#FFC000", "#000000", "transparent", "transparent", "transparent", "#00E600", "transparent", "transparent", "#FFFFFF", "transparent"]}},
        "stroke": {"field": "series", "type": "nominal", "legend": null,
          "scale": {"domain": ["This study", "IMO Expert Group (Freight-Trend), 2007", "Corbett and Köhler (Freight-Trend), JGR, 2003", "Eyring et al., JGR, 2005 part 1 + 2", "Endresen et al., JGR, 2007 (not corrected for comparison)", "Endresen et al (Freight-Trend)., JGR, 2007", "IEA Total marine fuel sales", "IEA Int'l Marine Fuel sales", "Point Estimates", "This study (Freight trend)", "Freight-Trend Eyring et al., JGR, 2005", "EIA bunker", "-"],
            "range": ["#1F3F8F", "#9999FF", "#FF0000", "#FF7000", "#000000", "#404040", "#F8C0A0", "#99CCFF", "#103010", "#0000FF", "#FF9900", "#1A8080", "transparent"]}}
      }
    },
    {
      "data": {"values": [{"year": 2007, "value": 400, "label": "400 Mtpa"}]},
      "mark": {"type": "text", "align": "left", "baseline": "alphabetic", "dx": 38, "dy": -6.5, "font": "Liberation Sans", "fontSize": 46, "color": "#1645B5"},
      "encoding": {"text": {"field": "label"}}
    },
    {
      "data": {"values": [{"year": 2007, "value": 333, "label": "333 Mtpa"}]},
      "mark": {"type": "text", "align": "left", "baseline": "alphabetic", "dx": 38, "dy": 5.5, "font": "Liberation Sans", "fontSize": 46, "color": "#1645B5"},
      "encoding": {"text": {"field": "label"}}
    },
    {
      "data": {"values": [{"year": 2007, "value": 279, "label": "279 Mtpa"}]},
      "mark": {"type": "text", "align": "left", "baseline": "alphabetic", "dx": 38, "dy": 41, "font": "Liberation Sans", "fontSize": 46, "color": "#1645B5"},
      "encoding": {"text": {"field": "label"}}
    }
  ]
}
